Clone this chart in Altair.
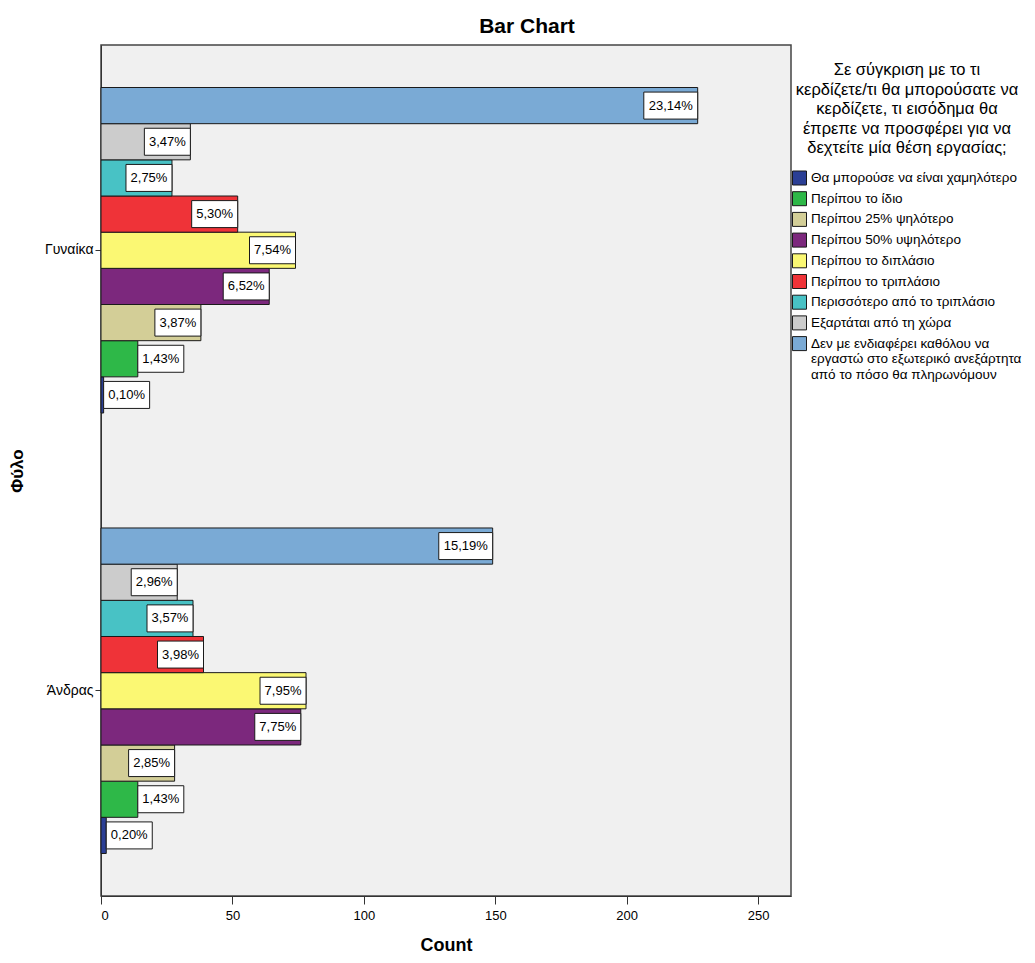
import altair as alt
import pandas as pd

# ---- data ----
sexes = ["Γυναίκα", "Άνδρας"]
categories = [
    "Θα μπορούσε να είναι χαμηλότερο",
    "Περίπου το ίδιο",
    "Περίπου 25% ψηλότερο",
    "Περίπου 50% υψηλότερο",
    "Περίπου το διπλάσιο",
    "Περίπου το τριπλάσιο",
    "Περισσότερο από το τριπλάσιο",
    "Εξαρτάται από τη χώρα",
    "Δεν με ενδιαφέρει καθόλου να\nεργαστώ στο εξωτερικό ανεξάρτητα\nαπό το πόσο θα πληρωνόμουν",
]
colors = ["#2b3f95", "#2eb848", "#d3ce97", "#7c287d", "#fbf873",
          "#ef3338", "#48c2c5", "#cccccc", "#7aaad5"]
women_counts = [1, 14, 38, 64, 74, 52, 27, 34, 227]
men_counts = [2, 14, 28, 76, 78, 39, 35, 29, 149]
women_pct = ["0,10%", "1,43%", "3,87%", "6,52%", "7,54%", "5,30%", "2,75%", "3,47%", "23,14%"]
men_pct = ["0,20%", "1,43%", "2,85%", "7,75%", "7,95%", "3,98%", "3,57%", "2,96%", "15,19%"]
x_ticks = [0, 50, 100, 150, 200, 250]
legend_title = ["Σε σύγκριση με το τι", "κερδίζετε/τι θα μπορούσατε να",
                "κερδίζετε, τι εισόδημα θα", "έπρεπε να προσφέρει για να",
                "δεχτείτε μία θέση εργασίας;"]

rows = []
for s, cnts, pcts in [(sexes[0], women_counts, women_pct), (sexes[1], men_counts, men_pct)]:
    for c, n, p in zip(categories, cnts, pcts):
        rows.append({"sex": s, "cat": c, "count": n, "label": p})
df = pd.DataFrame(rows)

FONT = "Liberation Sans"

y_enc = alt.Y(
    "sex:N", sort=sexes,
    scale=alt.Scale(paddingInner=0.261, paddingOuter=0.0965),
    axis=alt.Axis(title="Φύλο", titleAngle=270, titleX=-84, titleY=425.5,
                  titleAlign="center", titleBaseline="middle",
                  titleFontSize=17, titleFontWeight="bold", titleColor="black",
                  tickSize=6, labelPadding=2, labelFontSize=14, labelColor="black",
                  tickColor="#333", domainColor="#333", grid=False),
)
yoff_enc = alt.YOffset("cat:N", sort=list(reversed(categories)),
                       scale=alt.Scale(paddingInner=0, paddingOuter=0))
x_scale = alt.Scale(domain=[0, 262.5], nice=False, zero=True)

base = alt.Chart(df)

bars = base.mark_bar(stroke="#1a1a1a", strokeWidth=1).encode(
    x=alt.X("count:Q", scale=x_scale,
            axis=alt.Axis(values=x_ticks, tickSize=8, labelPadding=5, labelFontSize=13,
                          labelColor="black", tickColor="#333", domainColor="#333",
                          grid=False, title="Count", titleFontSize=18,
                          titleFontWeight="bold", titleColor="black",
                          titleY=54, titleBaseline="alphabetic")),
    y=y_enc,
    yOffset=yoff_enc,
    color=alt.Color(
        "cat:N",
        scale=alt.Scale(domain=categories, range=colors),
        legend=alt.Legend(
            title=legend_title, orient="none", legendX=691, legendY=17,
            titleFontSize=16.5, titleFontWeight="normal", titleColor="black",
            titleLineHeight=19.5, titleAlign="center", titleAnchor="middle",
            titleLimit=400, titlePadding=14, symbolType="square", symbolSize=196,
            symbolStrokeColor="#1a1a1a", symbolStrokeWidth=1,
            labelFontSize=13.5, labelColor="black", labelOffset=4, labelLimit=400,
            labelExpr="split(datum.label, '\\n')", rowPadding=1.7, padding=0,
        ),
    ),
)

calc = base.transform_calculate(
    w="length(datum.label) >= 6 ? 20.5 : 17.5"
).transform_calculate(
    lo="datum.count >= datum.w ? datum.count - datum.w : datum.count"
).transform_calculate(
    hi="datum.lo + datum.w", mid="datum.lo + datum.w / 2"
)

boxes = calc.mark_bar(fill="white", stroke="#1a1a1a", strokeWidth=1, size=27).encode(
    x=alt.X("lo:Q", scale=x_scale), x2="hi:Q", y=y_enc, yOffset=yoff_enc,
)
texts = calc.mark_text(align="center", baseline="middle", fontSize=13, color="black",
                       font=FONT).encode(
    x=alt.X("mid:Q", scale=x_scale), y=y_enc, yOffset=yoff_enc, text="label:N",
)

chart = alt.layer(bars, boxes, texts).properties(
    width=690, height=851,
    autosize=alt.AutoSizeParams(type="none"),
    padding={"left": 93, "top": 37, "right": 236, "bottom": 58},
    title=alt.TitleParams("Bar Chart", fontSize=21, fontWeight="bold", anchor="middle",
                          dx=81, dy=21, offset=8, baseline="bottom", color="black",
                          font=FONT),
).configure(font=FONT).configure_view(
    fill="#f0f0f0", stroke="#444", strokeWidth=1.5
)

chart.save("out.html", embed_options={"renderer": "svg", "actions": False})
